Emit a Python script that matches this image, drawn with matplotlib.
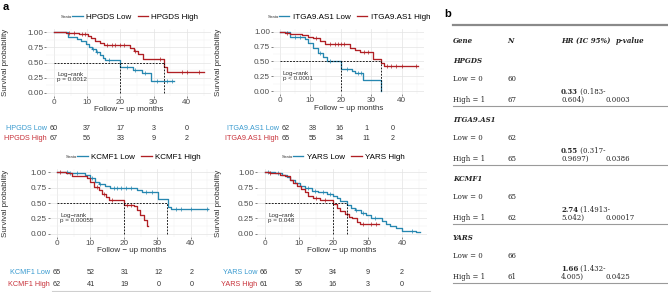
import numpy as np
import matplotlib.pyplot as plt
from matplotlib.lines import Line2D

W, H = 668, 292
BLUE = "#2687b0"
RED = "#b01f24"
BLUE_TXT = "#3a9bd0"
RED_TXT = "#c8323a"
GREY = "#4d4d4d"
SANS = "Liberation Sans"
SERIF = "DejaVu Serif"

# ---- data ---------------------------------------------------------------
genes = ["HPGDS", "ITGA9.AS1", "KCMF1", "YARS"]
pvals = ["p = 0.0012", "p < 0.0001", "p = 0.00055", "p = 0.048"]
risk_times = [0, 10, 20, 30, 40]

hpgds_low_t = [0, 4.2, 7.0, 8.0, 9.5, 10.5, 11.5, 12.5, 13.7, 14.7, 15.5, 20.0, 23.7, 26.4, 29.3, 36.0]
hpgds_low_s = [1.0, 0.92, 0.89, 0.85, 0.80, 0.76, 0.72, 0.68, 0.63, 0.58, 0.54, 0.43, 0.38, 0.32, 0.20, 0.20]
hpgds_high_t = [0, 3.5, 7.5, 10.2, 11.2, 12.2, 13.7, 15.0, 22.8, 24.0, 25.3, 26.8, 33.0, 34.0, 45.0]
hpgds_high_s = [1.0, 0.98, 0.96, 0.93, 0.90, 0.86, 0.82, 0.78, 0.73, 0.69, 0.64, 0.56, 0.42, 0.35, 0.35]
hpgds_low_cens = [11.8, 12.8, 16.5, 22.0, 24.5, 27.5, 31.0, 34.0, 35.5]
hpgds_high_cens = [4.5, 6.0, 8.5, 9.2, 16.0, 17.5, 18.5, 19.8, 21.0, 24.5, 32.0, 38.5, 40.0, 43.5]
hpgds_risk_low = [60, 37, 17, 3, 0]
hpgds_risk_high = [67, 56, 33, 9, 2]
hpgds_medians = [20, 33]

itga_low_t = [0, 3.3, 8.2, 9.3, 10.9, 12.5, 14.2, 15.3, 20.0, 23.5, 24.6, 27.3, 33.2]
itga_low_s = [1.0, 0.92, 0.88, 0.82, 0.72, 0.64, 0.57, 0.51, 0.37, 0.34, 0.30, 0.19, 0.0]
itga_high_t = [0, 1.6, 3.3, 7.1, 9.3, 10.9, 13.2, 14.9, 23.0, 24.6, 26.2, 30.5, 33.0, 34.0, 45.3]
itga_high_s = [1.0, 0.98, 0.97, 0.95, 0.92, 0.90, 0.84, 0.80, 0.72, 0.69, 0.66, 0.55, 0.47, 0.43, 0.43]
itga_low_cens = [5.0, 6.5, 13.0, 16.5, 22.0, 25.5, 26.5]
itga_high_cens = [2.2, 12.0, 16.5, 18.0, 19.0, 20.0, 21.0, 27.5, 29.0, 35.0, 36.5, 38.0, 40.0, 44.5]
itga_risk_low = [62, 38, 16, 1, 0]
itga_risk_high = [65, 55, 34, 11, 2]
itga_medians = [20, 33]

kcmf_low_t = [0, 3.5, 8.5, 9.9, 11.4, 12.5, 14.4, 15.9, 23.9, 25.4, 30.1, 33.1, 34.1, 45.2]
kcmf_low_s = [1.0, 0.98, 0.95, 0.90, 0.84, 0.81, 0.78, 0.75, 0.71, 0.68, 0.57, 0.44, 0.40, 0.40]
kcmf_high_t = [0, 2.6, 4.6, 9.0, 10.0, 11.0, 12.5, 13.5, 14.5, 15.4, 20.0, 22.9, 23.9, 24.9, 25.9, 26.9, 27.2]
kcmf_high_s = [1.0, 0.98, 0.93, 0.90, 0.84, 0.76, 0.71, 0.65, 0.60, 0.55, 0.47, 0.45, 0.39, 0.31, 0.23, 0.12, 0.12]
kcmf_low_cens = [3.0, 4.0, 6.0, 10.5, 13.0, 17.0, 18.0, 19.0, 20.5, 22.0, 26.5, 28.5, 35.5, 37.0, 40.0, 44.8]
kcmf_high_cens = [1.0, 12.0, 14.0, 16.5, 21.0, 22.0]
kcmf_risk_low = [65, 52, 31, 12, 2]
kcmf_risk_high = [62, 41, 19, 0, 0]
kcmf_medians = [33, 20]

yars_low_t = [0, 3.0, 4.9, 6.4, 7.3, 8.8, 10.2, 11.7, 13.7, 15.6, 18.0, 20.0, 21.0, 22.0, 24.1, 25.0,
              26.2, 28.0, 29.5, 31.0, 34.2, 35.2, 36.6, 38.2, 40.0, 44.0, 45.2]
yars_low_s = [1.0, 0.99, 0.96, 0.92, 0.87, 0.82, 0.78, 0.74, 0.70, 0.67, 0.65, 0.62, 0.58, 0.54, 0.46, 0.42,
              0.38, 0.34, 0.30, 0.26, 0.21, 0.16, 0.13, 0.09, 0.05, 0.03, 0.03]
yars_high_t = [0, 1.5, 4.4, 5.9, 7.3, 8.3, 9.3, 10.7, 11.7, 12.7, 14.1, 16.1, 20.0, 21.0, 22.0, 23.4,
               24.4, 25.4, 26.8, 27.8, 33.2]
yars_high_s = [1.0, 0.99, 0.96, 0.93, 0.88, 0.83, 0.78, 0.73, 0.68, 0.62, 0.58, 0.55, 0.48, 0.42, 0.37, 0.33,
               0.28, 0.25, 0.20, 0.16, 0.16]
yars_low_cens = [1.0, 4.0, 12.5, 14.5, 17.0, 19.0, 26.5, 28.5, 32.0, 43.0]
yars_high_cens = [1.5, 15.0, 17.5, 24.0, 28.5, 31.0, 32.5]
yars_risk_low = [66, 57, 34, 9, 2]
yars_risk_high = [61, 36, 16, 3, 0]
yars_medians = [24, 20]

# table b
tab_genes = ["HPGDS", "ITGA9.AS1", "KCMF1", "YARS"]
tab_n_low = [60, 62, 65, 66]
tab_n_high = [67, 65, 62, 61]
tab_hr = ["0.33", "0.55", "2.74", "1.66"]
tab_ci_lo = ["(0.183-", "(0.317-", "(1.4913-", "(1.432-"]
tab_ci_hi = ["0.604)", "0.9697)", "5.042)", "4.005)"]
tab_p = ["0.0003", "0.0386", "0.00017", "0.0425"]


def px_axes(fig, left, top, right, bottom):
    return fig.add_axes([left / W, 1 - bottom / H, (right - left) / W, (bottom - top) / H])


def step_at(t, s, x):
    idx = np.searchsorted(t, x, side="right") - 1
    return np.asarray(s)[idx]


def km_panel(fig, box, gene, pval, low, high, medians):
    ax = px_axes(fig, *box)
    ax.set_xlim(-2.25, 47.25)
    ax.set_ylim(-0.05, 1.05)
    ax.set_xticks(risk_times)
    ax.set_xticklabels([str(v) for v in risk_times])
    ax.set_yticks([0, 0.25, 0.5, 0.75, 1.0])
    ax.set_yticklabels(["0.00", "0.25", "0.50", "0.75", "1.00"])
    ax.set_xticks([5, 15, 25, 35, 45], minor=True)
    ax.set_yticks([0.125, 0.375, 0.625, 0.875], minor=True)
    ax.tick_params(which="major", length=1.6, width=0.5, color=GREY, labelsize=5.9,
                   labelcolor=GREY, pad=0.6)
    ax.tick_params(which="minor", length=0)
    for lbl in ax.get_xticklabels() + ax.get_yticklabels():
        lbl.set_fontfamily(SANS)
    ax.grid(which="major", color="#e3e3e3", lw=0.5)
    ax.grid(which="minor", color="#f1f1f1", lw=0.35)
    ax.set_axisbelow(True)
    for sp in ax.spines.values():
        sp.set_visible(False)

    for (t, s, cens), col in zip([low, high], [BLUE, RED]):
        ax.step(t, s, where="post", color=col, lw=0.95, zorder=3)
        ax.plot(cens, step_at(t, s, cens), "+", color=col, ms=2.4, mew=0.5, zorder=3)

    ax.plot([0, max(medians)], [0.5, 0.5], color="black", lw=0.6, ls=(0, (2.2, 1.6)), zorder=4)
    for m in medians:
        ax.plot([m, m], [0, 0.5], color="black", lw=0.6, ls=(0, (2.2, 1.6)), zorder=4)

    ax.text(1.0, 0.26, "Log\u2212rank\n" + pval, fontsize=4.5, family=SANS, color="#333333",
            va="center", ha="left", linespacing=1.05)

    handles = [Line2D([], [], color=BLUE, lw=0.95), Line2D([], [], color=RED, lw=0.95)]
    leg = ax.legend(handles, [gene + " Low", gene + " High"], loc="lower center",
                    bbox_to_anchor=(0.54, 1.0), ncol=2, frameon=False, handlelength=1.3,
                    handletextpad=0.4, columnspacing=0.8, borderaxespad=0.6,
                    prop={"family": SANS, "size": 5.8})
    return ax, leg


def risk_table(fig, x0, x40, r1, r2, gene, low, high):
    d = r2 - r1
    ax = px_axes(fig, x0, r1 - d / 2, x40, r2 + d / 2)
    ax.set_xlim(0, 40)
    ax.set_ylim(1.5, -0.5)
    ax.axis("off")
    for row, (vals, col, name) in enumerate([(low, BLUE_TXT, gene + " Low"),
                                              (high, RED_TXT, gene + " High")]):
        for t, v in zip(risk_times, vals):
            ax.text(t, row, str(v), ha="center", va="center", fontsize=5.2, family=SANS, color="#333333")
        ax.annotate(name, (0, row), xytext=(-5, 0), textcoords="offset points", ha="right",
                    va="center", fontsize=5.2, family=SANS, color=col)
    return ax


fig = plt.figure(figsize=(W / 100, H / 100), dpi=100)

panels = [
    ((46.5, 29, 211, 96), (54, 187, 128, 139), genes[0], pvals[0],
     (hpgds_low_t, hpgds_low_s, hpgds_low_cens), (hpgds_high_t, hpgds_high_s, hpgds_high_cens),
     hpgds_medians, hpgds_risk_low, hpgds_risk_high),
    ((273, 29, 424, 94), (286, 393, 128, 139), genes[1], pvals[1],
     (itga_low_t, itga_low_s, itga_low_cens), (itga_high_t, itga_high_s, itga_high_cens),
     itga_medians, itga_risk_low, itga_risk_high),
    ((49.5, 169, 215, 237), (57, 192, 273, 285), genes[2], pvals[2],
     (kcmf_low_t, kcmf_low_s, kcmf_low_cens), (kcmf_high_t, kcmf_high_s, kcmf_high_cens),
     kcmf_medians, kcmf_risk_low, kcmf_risk_high),
    ((257, 169, 427, 237), (264, 402, 273, 285), genes[3], pvals[3],
     (yars_low_t, yars_low_s, yars_low_cens), (yars_high_t, yars_high_s, yars_high_cens),
     yars_medians, yars_risk_low, yars_risk_high),
]

legends = []
for box, rbox, gene, pval, low, high, meds, rl, rh in panels:
    ax, leg = km_panel(fig, box, gene, pval, low, high, meds)
    legends.append(leg)
    risk_table(fig, *rbox, gene, rl, rh)

# overlay in pixel coordinates for free text and table b
ov = fig.add_axes([0, 0, 1, 1])
ov.set_xlim(0, W)
ov.set_ylim(H, 0)
ov.axis("off")

ov.text(3, 7, "a", fontsize=8, fontweight="bold", family=SANS, va="center")
ov.text(444, 14, "b", fontsize=8, fontweight="bold", family=SANS, va="center")

for (x, y) in [(6, 62), (218, 62), (6, 203), (218, 203)]:
    ov.text(x, y, "Survival probability", rotation=90, ha="center", va="center",
            fontsize=5.8, family=SANS, color="#333333")
for (x, y) in [(129, 109.5), (349, 108.5), (132, 250.5), (342, 250.5)]:
    ov.text(x, y, "Follow \u2212 up months", ha="center", va="center", fontsize=5.8,
            family=SANS, color="#333333")

ov.plot([52, 430], [290.5, 290.5], color="#cfcfcf", lw=0.8)

# "Strata" next to each legend
fig.canvas.draw()
renderer = fig.canvas.get_renderer()
inv = ov.transData.inverted()
for leg in legends:
    bb = leg.get_window_extent(renderer)
    (lx, ly0), (_, ly1) = inv.transform([[bb.x0, bb.y0], [bb.x1, bb.y1]])
    ov.text(lx + 3, (ly0 + ly1) / 2, "Strata", fontsize=3, family=SANS, color="#333333",
            ha="right", va="center")

# ---- table b ---------------------------------------------------------------
TXT = "#262626"
fs = 5.0
x_gene, x_n, x_hr, x_p = 453, 507, 561, 614
ov.plot([453, 668], [25, 25], color="#8a8a8a", lw=1.6)
hdr = dict(fontsize=fs, family=SERIF, fontstyle="italic", fontweight="bold", color=TXT, va="center")
ov.text(x_gene, 41, "Gene", **hdr)
ov.text(x_n, 41, "N", **hdr)
ov.text(x_hr, 41, "HR (IC 95%)", **hdr)
ov.text(x_p + 2, 41, "p-value", **hdr)

for i in range(len(tab_genes)):
    y0 = 61 + i * 59
    ov.text(x_gene, y0, tab_genes[i], **hdr)
    ov.text(x_gene, y0 + 18, "Low = 0", fontsize=fs, family=SERIF, color=TXT, va="center")
    ov.text(x_n, y0 + 18, str(tab_n_low[i]), fontsize=fs, family=SERIF, color=TXT, va="center")
    hr = ov.text(x_hr, y0 + 33, tab_hr[i], fontsize=fs, family=SERIF, fontweight="bold",
                 color=TXT, va="baseline")
    ov.annotate(" " + tab_ci_lo[i], xy=(1, 0), xycoords=hr, fontsize=fs, family=SERIF,
                color=TXT, va="bottom", ha="left")
    ov.text(x_gene, y0 + 39, "High = 1", fontsize=fs, family=SERIF, color=TXT, va="center")
    ov.text(x_n, y0 + 39, str(tab_n_high[i]), fontsize=fs, family=SERIF, color=TXT, va="center")
    ov.text(x_hr, y0 + 39, tab_ci_hi[i], fontsize=fs, family=SERIF, color=TXT, va="center")
    ov.text(x_p - 8, y0 + 39, tab_p[i], fontsize=fs, family=SERIF, color=TXT, va="center")
    ov.plot([453, 668], [y0 + 45, y0 + 45], color="#9a9a9a", lw=0.8)

fig.savefig("out.png", dpi=100)
